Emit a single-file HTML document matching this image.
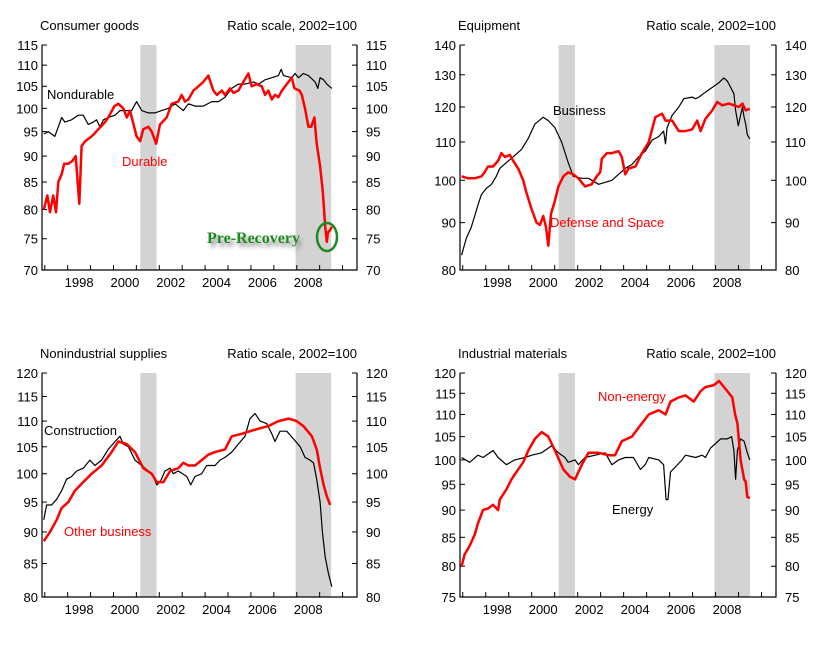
<!DOCTYPE html>
<html><head><meta charset="utf-8">
<style>
html,body{margin:0;padding:0;background:#fff;width:825px;height:652px;overflow:hidden}
svg text{font-family:"Liberation Sans",Arial,sans-serif;font-size:13px}
</style></head>
<body>
<svg id="chart" width="825" height="652" viewBox="0 0 825 652" xmlns="http://www.w3.org/2000/svg">
<defs><filter id="sh" x="-10%" y="-50%" width="130%" height="250%"><feGaussianBlur stdDeviation="2"/></filter></defs>
</svg>
<script>
// ---- data ----
const recessions = [[2001.17, 2001.88], [2007.95, 2009.5]];
const xTickYears = [1997,1998,1999,2000,2001,2002,2003,2004,2005,2006,2007,2008,2009,2010];
const xLabelYears = [1998,2000,2002,2004,2006,2008];

const durableT = [1996.96,1997.11,1997.23,1997.37,1997.49,1997.59,1997.74,1997.85,1998.03,1998.20,1998.35,1998.51,1998.61,1998.76,1999.05,1999.34,1999.63,1999.77,2000.04,2000.21,2000.43,2000.58,2000.72,2001.01,2001.16,2001.30,2001.52,2001.67,2001.86,2002.03,2002.32,2002.54,2002.83,2002.98,2003.12,2003.27,2003.49,2003.71,2003.92,2004.14,2004.36,2004.51,2004.73,2004.87,2005.09,2005.23,2005.45,2005.67,2005.89,2006.03,2006.25,2006.47,2006.62,2006.76,2006.91,2007.05,2007.20,2007.35,2007.64,2007.78,2007.90,2008.12,2008.22,2008.36,2008.51,2008.63,2008.77,2008.87,2009.02,2009.14,2009.24,2009.31,2009.36,2009.46,2009.53];
const durableV = [80,82.5,79.5,82.5,79.5,85,86.5,88.5,88.5,89,90,81,92,93,94,95.5,97,98,100.5,101,100,98,99.5,94,93,95.5,96,95,92.5,96.5,98,101,101.5,103,101.5,102,104,105,106,107.5,104,103,104,103,104.5,103.5,104,106,108,105,105.5,105,103,104,102,103,102.5,104,106,107,104.5,104,103,100,96,96,98,92.5,88,83,77,74.5,76,76.5,77];
const nondurT = [1996.96,1997.15,1997.30,1997.44,1997.59,1997.74,1997.88,1998.17,1998.46,1998.68,1998.90,1999.12,1999.26,1999.41,1999.56,1999.77,2000.07,2000.28,2000.58,2000.79,2001.01,2001.23,2001.52,2001.81,2002.10,2002.40,2002.69,2003.05,2003.27,2003.56,2003.92,2004.29,2004.58,2004.87,2005.16,2005.45,2005.74,2006.11,2006.33,2006.62,2006.91,2007.20,2007.32,2007.42,2007.78,2007.93,2008.07,2008.29,2008.51,2008.80,2008.92,2009.02,2009.17,2009.31,2009.53];
const nondurV = [94.5,95,94.5,94,96,98,97,97.5,98.5,98.5,96.5,97,97.5,96,97.5,98,98.5,99.5,99.5,99.5,101.5,99.5,99,99,99.5,100,101,99.5,101,100.5,100.5,101.5,101.5,102.5,104.5,105.5,105.5,106,105.5,106.5,107,107.5,109,107.5,107,108,107,108,107.5,106,104.5,107,106.5,105.5,104.5];

const businessT = [1996.95,1997.15,1997.37,1997.52,1997.66,1997.81,1998.03,1998.25,1998.46,1998.61,1998.90,1999.19,1999.56,1999.85,2000.14,2000.50,2000.72,2001.01,2001.30,2001.59,2001.81,2002.18,2002.47,2002.91,2003.20,2003.49,2003.78,2004.07,2004.36,2004.65,2004.94,2005.24,2005.53,2005.74,2005.82,2005.89,2006.11,2006.40,2006.62,2006.98,2007.13,2007.27,2007.56,2007.86,2008.15,2008.36,2008.51,2008.66,2008.80,2008.87,2008.99,2009.17,2009.24,2009.31,2009.38,2009.49];
const businessV = [83,86.5,89,91.5,94,96.5,98,99,101,103,104.5,106,108,111,115,117,116,114,110,104.5,101,100.5,100.5,99,99.5,100,101.5,103,104,106,107.5,110.5,111.5,113,109.5,114,117.5,120,122.5,123,122.5,123,124.5,126,127.5,129,128,126,124,119,114.5,120,117,115,112,110.8];
const defenseT = [1996.95,1997.23,1997.52,1997.81,1997.95,1998.10,1998.32,1998.54,1998.68,1998.83,1999.05,1999.19,1999.41,1999.63,1999.77,2000.00,2000.21,2000.36,2000.50,2000.62,2000.72,2000.84,2001.01,2001.16,2001.38,2001.59,2001.81,2002.03,2002.32,2002.61,2002.83,2002.98,2003.05,2003.27,2003.49,2003.78,2003.92,2004.07,2004.22,2004.51,2004.80,2005.09,2005.38,2005.67,2005.82,2006.11,2006.40,2006.69,2006.98,2007.20,2007.35,2007.56,2007.86,2008.07,2008.29,2008.58,2008.80,2009.02,2009.17,2009.31,2009.49];
const defenseV = [101,100.5,100.5,101,102,103.5,103.5,105,107,106,106.5,105,103,100,97,93,90,89.5,91.5,89,85,92,95,98.5,101,102,101.5,100.5,98.5,99,101,102,105.5,107,107,107.5,106,101.5,103,103.5,107,110,117,118,116,116,113,113,113.5,116,113,116.5,119,121.5,120.5,121,120.5,120,121,119,119.5];

const constrT = [1996.96,1997.08,1997.30,1997.52,1997.74,1997.95,1998.17,1998.39,1998.68,1998.97,1999.19,1999.48,1999.77,2000.07,2000.28,2000.43,2000.65,2000.94,2001.23,2001.52,2001.74,2001.89,2002.03,2002.25,2002.47,2002.61,2002.83,2003.20,2003.37,2003.56,2003.85,2004.07,2004.43,2004.65,2004.87,2005.16,2005.45,2005.74,2005.96,2006.18,2006.40,2006.69,2006.91,2007.05,2007.27,2007.56,2007.86,2008.15,2008.36,2008.58,2008.73,2008.87,2009.02,2009.12,2009.24,2009.38,2009.53];
const constrV = [92,94.5,94.5,95.5,97,99,99.5,100.5,101,102.5,101.5,102.5,104.5,106,107,105.5,105,102.5,101.5,100.5,99.5,98,98.5,100.5,101,100,100.5,99.5,98,99.5,100,101.5,101.5,102.5,103,104,105.5,107,110.5,111.5,110,109.5,107.5,106,108,108,106.5,105,103,102.5,102,99,95,90,86,83.5,81.5];
const otherT = [1996.96,1997.23,1997.52,1997.74,1998.03,1998.32,1998.68,1999.05,1999.48,1999.92,2000.21,2000.58,2000.94,2001.30,2001.67,2001.89,2002.18,2002.47,2002.83,2003.05,2003.27,2003.56,2003.85,2004.14,2004.43,2004.87,2005.16,2005.60,2005.96,2006.33,2006.76,2007.20,2007.64,2008.00,2008.29,2008.66,2008.87,2009.02,2009.17,2009.31,2009.46];
const otherV = [88.5,90,92,94,95,97,98.5,100,101.5,104,106,105.5,104,101,100,98.5,98.5,100.5,101,102,101.5,101.5,102.5,103.5,104,104.5,107,107.5,108,108.5,109,110,110.5,110,109,107,104.5,101,98,96,94.5];

const nonEnergyT = [1996.95,1997.08,1997.30,1997.52,1997.66,1997.88,1998.10,1998.32,1998.54,1998.61,1998.90,1999.12,1999.41,1999.63,1999.85,2000.14,2000.43,2000.72,2001.01,2001.38,2001.67,2001.89,2002.18,2002.47,2002.91,2003.34,2003.63,2003.92,2004.36,2004.65,2005.09,2005.53,2005.82,2006.04,2006.40,2006.69,2007.05,2007.35,2007.56,2007.93,2008.15,2008.44,2008.73,2008.85,2008.95,2009.09,2009.24,2009.31,2009.38,2009.49];
const nonEnergyV = [80,82,83.5,85.5,87.5,90,90.3,91,90,92,94,96,98,99.5,102,104.5,106,105,102,98,96.5,96,99,101.5,101.5,101,101,104,105,107,110,111,110,113,114,114.5,113,115.5,116.5,117,118,116,114,110,108,100,96,95.5,92.5,92.3];
const energyT = [1996.95,1997.30,1997.66,1997.88,1998.32,1998.54,1998.90,1999.26,1999.70,2000.00,2000.43,2000.87,2001.16,2001.45,2001.59,2001.89,2002.03,2002.32,2002.76,2003.20,2003.49,2003.78,2004.07,2004.43,2004.73,2004.94,2005.09,2005.53,2005.74,2005.85,2005.93,2006.04,2006.25,2006.54,2006.69,2007.13,2007.42,2007.56,2007.78,2008.00,2008.22,2008.51,2008.70,2008.80,2008.87,2008.95,2009.09,2009.24,2009.38,2009.49];
const energyV = [100.5,99.5,101,100.5,102,100.5,99,100,100.5,101,101.5,103,101.5,100.5,99.5,100,99,100.5,101,101.5,99,100,100.5,100.5,98,99,100.5,100,99,92,92,97.5,98.5,100,101,100.5,101,100.5,102.5,103.5,104.5,104.5,105,102,96,102,104.5,104,101.5,100];

const topLeftTicks = [70,75,80,85,90,95,100,105,110,115];
const topRightTicks = [80,90,100,110,120,130,140];
const bottomLeftTicks = [80,85,90,95,100,105,110,115,120];
const bottomRightTicks = [75,80,85,90,95,100,105,110,115,120];

// ---- drawing ----
const NS = 'http://www.w3.org/2000/svg';
const svg = document.getElementById('chart');
function mk(tag, attrs, parent) {
  const e = document.createElementNS(NS, tag);
  for (const k in attrs) e.setAttribute(k, attrs[k]);
  (parent || svg).appendChild(e);
  return e;
}
function panel(cfg) {
  const g = mk('g', {});
  
  
  const x = t => cfg.x0 + (t - 1996.88) * (cfg.x1 - cfg.x0) / 13.75;
  const lmin = Math.log(cfg.ymin), lmax = Math.log(cfg.ymax);
  const y = v => cfg.y1 - (Math.log(v) - lmin) / (lmax - lmin) * (cfg.y1 - cfg.y0);
  recessions.forEach(r => {
    const b = mk('rect', {x: x(r[0]), y: cfg.y0, width: x(r[1]) - x(r[0]), height: cfg.y1 - cfg.y0, fill: '#d3d3d3'}, g);
    
    
  });
  const ax = mk('path', {d: `M${cfg.x0},${cfg.y0}V${cfg.y1}H${cfg.x1}V${cfg.y0}`, fill: 'none', stroke: '#000', 'stroke-width': 1.2}, g);
  
  
  xTickYears.forEach(t => mk('line', {x1: x(t), x2: x(t), y1: cfg.y1, y2: cfg.y1 - 5, stroke: '#000'}, g));
  xLabelYears.forEach(t => {
    const tx = mk('text', {x: x(t + 0.5), y: cfg.y1 + 17, 'text-anchor': 'middle', style: 'fill:#000'}, g);
    tx.textContent = t;
    
    
  });
  cfg.ticks.forEach(v => {
    mk('line', {x1: cfg.x0, x2: cfg.x0 + 5, y1: y(v), y2: y(v), stroke: '#000'}, g);
    mk('line', {x1: cfg.x1, x2: cfg.x1 - 5, y1: y(v), y2: y(v), stroke: '#000'}, g);
    const l = mk('text', {x: cfg.x0 - 4, y: y(v) + 5, 'text-anchor': 'end', style: 'fill:#000'}, g);
    l.textContent = v;
    
    
    const r = mk('text', {x: cfg.x1 + 9, y: y(v) + 5, style: 'fill:#000'}, g);
    r.textContent = v;
    
    
  });
  const ti = mk('text', {x: cfg.x0 - 2, y: 30 + cfg.y0 - 45, style: 'fill:#000'}, g);
  ti.textContent = cfg.title;
  
  
  const sc = mk('text', {x: cfg.x1 + 0, y: 30 + cfg.y0 - 45, 'text-anchor': 'end', style: 'fill:#000'}, g);
  sc.textContent = 'Ratio scale, 2002=100';
  
  
  cfg.series.forEach(s => {
    const d = s.t.map((t, i) => (i ? 'L' : 'M') + x(t).toFixed(1) + ',' + y(s.v[i]).toFixed(1)).join('');
    const p = mk('path', {d: d, fill: 'none', stroke: s.color, 'stroke-width': s.w, 'stroke-linejoin': 'round'}, g);
    
    
    const lb = mk('text', {x: s.lx, y: s.ly, style: 'fill:' + s.color}, g);
    lb.textContent = s.label;
    
    
  });
  return {g, x, y};
}
const p1 = panel({name: 'consumer-goods-panel', title: 'Consumer goods', x0: 42, x1: 357, y0: 45, y1: 270, ymin: 70, ymax: 115, ticks: topLeftTicks,
  series: [
    {name: 'nondurable', t: nondurT, v: nondurV, color: '#000', w: 1.2, label: 'Nondurable', lx: 47, ly: 99},
    {name: 'durable', t: durableT, v: durableV, color: '#ff0000', w: 2.5, label: 'Durable', lx: 122, ly: 166}
  ]});
const p2 = panel({name: 'equipment-panel', title: 'Equipment', x0: 460, x1: 776, y0: 45, y1: 270, ymin: 80, ymax: 140, ticks: topRightTicks,
  series: [
    {name: 'business', t: businessT, v: businessV, color: '#000', w: 1.2, label: 'Business', lx: 553, ly: 115},
    {name: 'defense-and-space', t: defenseT, v: defenseV, color: '#ff0000', w: 2.5, label: 'Defense and Space', lx: 550, ly: 227}
  ]});
const p3 = panel({name: 'nonindustrial-supplies-panel', title: 'Nonindustrial supplies', x0: 42, x1: 357, y0: 373, y1: 597, ymin: 80, ymax: 120, ticks: bottomLeftTicks,
  series: [
    {name: 'construction', t: constrT, v: constrV, color: '#000', w: 1.2, label: 'Construction', lx: 44, ly: 435},
    {name: 'other-business', t: otherT, v: otherV, color: '#ff0000', w: 2.5, label: 'Other business', lx: 64, ly: 536}
  ]});
const p4 = panel({name: 'industrial-materials-panel', title: 'Industrial materials', x0: 460, x1: 776, y0: 373, y1: 597, ymin: 75, ymax: 120, ticks: bottomRightTicks,
  series: [
    {name: 'energy', t: energyT, v: energyV, color: '#000', w: 1.2, label: 'Energy', lx: 612, ly: 514},
    {name: 'non-energy', t: nonEnergyT, v: nonEnergyV, color: '#ff0000', w: 2.5, label: 'Non-energy', lx: 598, ly: 401}
  ]});
// annotation
const sh = mk('text', {x: 210, y: 247, style: 'font-family:"Liberation Serif",serif;font-weight:bold;font-size:16px;fill:#888', filter: 'url(#sh)'});
sh.textContent = 'Pre-Recovery';


const an = mk('text', {x: 207, y: 243, style: 'font-family:"Liberation Serif",serif;font-weight:bold;font-size:16px;fill:#1e8a1e'});
an.textContent = 'Pre-Recovery';


const el = mk('ellipse', {cx: 327, cy: 237, rx: 10, ry: 14, fill: 'none', stroke: '#1e8a1e', 'stroke-width': 2.5});


</script>
</body></html>
